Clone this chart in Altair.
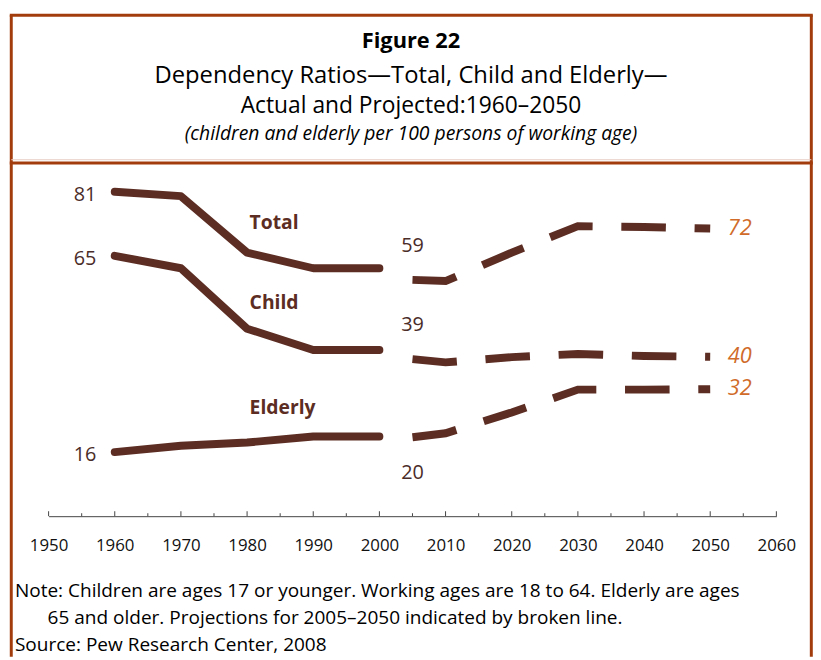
import altair as alt
import pandas as pd

# ---------------- data ----------------
series_names = ["Total", "Child", "Elderly"]

years_actual = [1960, 1970, 1980, 1990, 2000]
total_actual = [81, 79.9, 65.8, 61.9, 61.9]
child_actual = [65, 61.9, 46.8, 41.5, 41.5]
elderly_actual = [16, 17.6, 18.4, 19.9, 19.9]

years_proj = [2005, 2010, 2020, 2030, 2040, 2050]
total_proj = [59, 58.7, 65.8, 72.4, 72.2, 71.8]
child_proj = [39.2, 38.4, 39.7, 40.5, 40.0, 39.8]
elderly_proj = [19.7, 20.7, 25.9, 31.6, 31.6, 31.7]

tick_labels = [1950, 1960, 1970, 1980, 1990, 2000, 2010, 2020, 2030, 2040, 2050, 2060]
minor_ticks = [1955, 1965, 1975, 1985, 1995, 2005, 2015, 2025, 2035, 2045, 2055]

title_text = "Figure 22"
subtitle_lines = ["Dependency Ratios\u2014Total, Child and Elderly\u2014",
                  "Actual and Projected:1960\u20132050"]
unit_text = "(children and elderly per 100 persons of working age)"
note_lines = ["Note: Children are ages 17 or younger. Working ages are 18 to 64. Elderly are ages",
              "65 and older.  Projections for 2005\u20132050 indicated by broken line."]
source_text = "Source: Pew Research Center, 2008"

# ---------------- tables ----------------
def build(years, series_vals):
    rows = []
    for name, vals in zip(series_names, series_vals):
        for y, v in zip(years, vals):
            rows.append({"year": y, "value": v, "series": name, "label": str(int(round(v)))})
    return pd.DataFrame(rows)

actual = build(years_actual, [total_actual, child_actual, elderly_actual])
proj = build(years_proj, [total_proj, child_proj, elderly_proj])
ticks_major = pd.DataFrame({"year": tick_labels})
ticks_minor = pd.DataFrame({"year": minor_ticks})

# ---------------- style ----------------
W, H = 735, 356
LINE = "#5c2d23"
NUM = "#4a2c28"
ORANGE = "#d06b2a"
BORDER = "#a33c0c"
FONT = "Open Sans"

xs = alt.Scale(domain=[1950, 2060], nice=False, zero=False)
ys = alt.Scale(domain=[0, 88], nice=False, zero=False)

X = alt.X("year:Q", scale=xs,
          axis=alt.Axis(values=tick_labels, format="d", title=None, grid=False,
                        ticks=False, domainColor="#444444", domainWidth=1,
                        labelFont=FONT, labelFontSize=17, labelColor="#111111",
                        labelPadding=35, labelFlush=False, labelBaseline="alphabetic"))
Y = alt.Y("value:Q", scale=ys, axis=None)

solid = alt.Chart(actual).mark_line(color=LINE, strokeWidth=8, strokeCap="round",
                                    strokeJoin="round").encode(
    x=X, y=Y, detail="series:N")

dashed = alt.Chart(proj).mark_line(color=LINE, strokeWidth=8, strokeCap="butt",
                                   strokeJoin="miter", strokeDash=[45, 29]).encode(
    x=alt.X("year:Q", scale=xs), y=Y, detail="series:N")

tick_major_layer = alt.Chart(ticks_major).mark_rule(color="#444444", strokeWidth=1).encode(
    x=alt.X("year:Q", scale=xs), y=alt.value(H), y2=alt.value(H - 5))
tick_minor_layer = alt.Chart(ticks_minor).mark_rule(color="#444444", strokeWidth=1).encode(
    x=alt.X("year:Q", scale=xs), y=alt.value(H), y2=alt.value(H - 3))

start_labels = alt.Chart(actual).transform_filter("datum.year == 1960").mark_text(
    align="right", baseline="alphabetic", dx=-18.5, dy=9, font=FONT, fontSize=20,
    color=NUM).encode(x=alt.X("year:Q", scale=xs), y=Y, text="label:N")

mid_above = alt.Chart(proj).transform_filter(
    "datum.year == 2005 && datum.series != 'Elderly'").mark_text(
    align="center", baseline="alphabetic", dy=-28, font=FONT, fontSize=20,
    color=NUM).encode(x=alt.X("year:Q", scale=xs), y=Y, text="label:N")
mid_below = alt.Chart(proj).transform_filter(
    "datum.year == 2005 && datum.series == 'Elderly'").mark_text(
    align="center", baseline="alphabetic", dy=42, font=FONT, fontSize=20,
    color=NUM).encode(x=alt.X("year:Q", scale=xs), y=Y, text="label:N")

end_labels = alt.Chart(proj).transform_filter("datum.year == 2050").mark_text(
    align="left", baseline="alphabetic", dx=17.8, dy=6, font=FONT, fontSize=22,
    fontStyle="italic", color=ORANGE).encode(x=alt.X("year:Q", scale=xs), y=Y, text="label:N")


def txt(text, x, y, size, align="center", weight="normal", style="normal", color="#000000",
        font=FONT):
    return alt.Chart(pd.DataFrame({"t": [text]})).mark_text(
        align=align, baseline="alphabetic", fontSize=size, fontWeight=weight,
        fontStyle=style, color=color, font=font, clip=False).encode(
        text="t:N", x=alt.value(x), y=alt.value(y))


def rule(x, y, x2=None, y2=None, color=BORDER, width=3):
    enc = {"x": alt.value(x), "y": alt.value(y)}
    if x2 is not None:
        enc["x2"] = alt.value(x2)
    if y2 is not None:
        enc["y2"] = alt.value(y2)
    return alt.Chart(pd.DataFrame({"a": [0]})).mark_rule(
        color=color, strokeWidth=width, clip=False).encode(**enc)


LEFT, RIGHT, TOP, BOT = -37.7, 770.3, -150, 498
borders = [
    rule(LEFT, TOP, y2=BOT),
    rule(RIGHT, TOP, y2=BOT),
    rule(LEFT - 1.5, TOP, x2=RIGHT + 1.5),
    rule(LEFT, -4, x2=RIGHT, color="#e8cbc4", width=1),
    rule(LEFT - 1.5, -0.7, x2=RIGHT + 1.5),
]

CX = 366
texts = [
    txt(title_text, CX, -117, 22, weight="bold"),
    txt(subtitle_lines[0], CX, -81, 24),
    txt(subtitle_lines[1], CX, -51, 23),
    txt(unit_text, CX, -24, 19.5, style="italic"),
    txt("Total", 203, 66.3, 19.5, align="left", weight="bold", color=LINE),
    txt("Child", 203, 146.3, 19.5, align="left", weight="bold", color=LINE),
    txt("Elderly", 203, 253, 19.5, align="left", weight="bold", color=LINE),
    txt(note_lines[0], -34, 438, 19.2, align="left"),
    txt(note_lines[1], -1, 464.5, 19.2, align="left"),
    txt(source_text, -34, 492.5, 19.2, align="left"),
]

chart = alt.layer(
    *borders, tick_major_layer, tick_minor_layer, solid, dashed,
    start_labels, mid_above, mid_below, end_labels, *texts
).properties(
    width=W, height=H,
    padding={"left": 41, "top": 154, "right": 37, "bottom": 142},
    autosize=alt.AutoSizeParams(type="none"),
    background="white",
).configure_view(stroke=None)

chart.save("out.html", embed_options={"renderer": "svg", "actions": False})
